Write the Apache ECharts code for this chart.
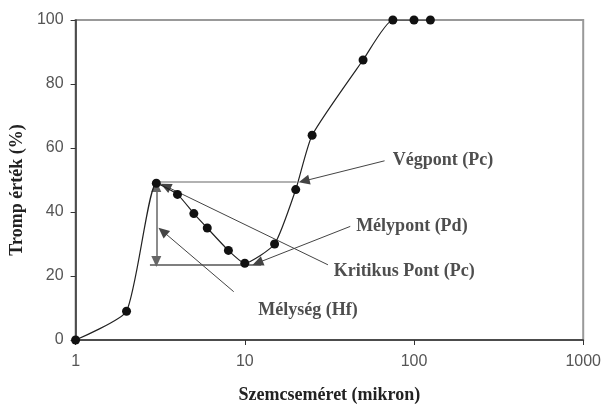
<!DOCTYPE html>
<html>
<head>
<meta charset="utf-8">
<script src="https://cdn.jsdelivr.net/npm/echarts@6/dist/echarts.min.js"></script>
<style>
  html, body { margin: 0; padding: 0; background: #fff; }
  #chart { width: 604px; height: 409px; }
</style>
</head>
<body>
<div id="chart"></div>
<script>
// Particle size (micron) and Tromp value (%)
const sizes = [1, 2, 3, 4, 5, 6, 8, 10, 15, 20, 25, 50, 75, 100, 125];
const tromp = [0, 9, 49, 45.5, 39.5, 35, 28, 24, 30, 47, 64, 87.5, 100, 100, 100];

// Axis tick values
const xTicks = [1, 10, 100, 1000];
const yTicks = [0, 20, 40, 60, 80, 100];

// Characteristic points of the curve
const peak = [3, 49];          // kritikus pont
const dip = [11.5, 23.5];      // mélypont
const endPt = [22, 49.5];      // végpont

// Annotation texts, anchor (left edge of text) and arrow start/end in data units
const noteNames = ['Végpont (Pc)', 'Mélypont (Pd)', 'Kritikus Pont (Pc)', 'Mélység (Hf)'];
const noteAnchors = [[75, 56], [45.5, 35.5], [33.5, 21.3], [12, 9.4]];
const arrowFrom = [[67, 56], [42, 35.5], [31, 23.5], [8.6, 15.1]];
const arrowTo = [[22.4, 49.7], [11.9, 24.1], [3.4, 48.1], [3.27, 34]];

const serif = '"Liberation Serif", "DejaVu Serif", serif';
const sans = '"Liberation Sans", Arial, sans-serif';

const chart = echarts.init(document.getElementById('chart'), null, { renderer: 'canvas' });

const headSize = [10, 11];
const arrowLines = arrowFrom.map((a, i) => [
  { coord: a, symbol: 'none' },
  { coord: arrowTo[i], symbol: 'triangle', symbolSize: headSize }
]);

chart.setOption({
  animation: false,
  backgroundColor: '#fff',
  grid: {
    left: 72, right: 20, top: 20, bottom: 65,
    show: true, borderColor: '#999', borderWidth: 2
  },
  xAxis: {
    type: 'log', logBase: 10, min: 1, max: 1000,
    name: 'Szemcseméret (mikron)', nameLocation: 'middle', nameGap: 46,
    nameTextStyle: { fontFamily: serif, fontWeight: 'bold', fontSize: 18, color: '#222' },
    axisLine: { lineStyle: { color: '#333', width: 1.5 } },
    axisTick: { show: true, length: 5, lineStyle: { color: '#333' } },
    minorTick: { show: false },
    splitLine: { show: false },
    axisLabel: {
      fontFamily: sans, fontSize: 16, color: '#555', margin: 14,
      formatter: v => (xTicks.includes(Math.round(v)) ? String(Math.round(v)) : '')
    }
  },
  yAxis: {
    type: 'value', min: 0, max: 100, interval: 20,
    name: 'Tromp érték (%)', nameLocation: 'middle', nameGap: 42,
    nameTextStyle: { fontFamily: serif, fontWeight: 'bold', fontSize: 18, color: '#222', padding: [0, 0, 0, -20] },
    axisLine: { show: true, lineStyle: { color: '#333', width: 1.5 } },
    axisTick: { show: true, length: 5, lineStyle: { color: '#333' } },
    splitLine: { show: false },
    axisLabel: {
      fontFamily: sans, fontSize: 16, color: '#555', margin: 12,
      formatter: v => (yTicks.includes(v) ? String(v) : '')
    }
  },
  series: [
    {
      type: 'line',
      data: sizes.map((s, i) => [s, tromp[i]]),
      smooth: 0.18,
      symbol: 'circle', symbolSize: 9,
      itemStyle: { color: '#111' },
      lineStyle: { color: '#222', width: 1.2 },
      z: 5,
      markLine: {
        silent: true,
        animation: false,
        label: { show: false },
        symbol: 'none',
        data: [
          // horizontal level at the peak, out to the end point
          [{ coord: [peak[0], endPt[1]], symbol: 'none', lineStyle: { color: '#999', width: 1.5 } },
           { coord: [endPt[0] * 0.92, endPt[1]], symbol: 'none' }],
          // horizontal level at the dip
          [{ coord: [2.75, dip[1]], symbol: 'none', lineStyle: { color: '#555', width: 1.5 } },
           { coord: [12.5, dip[1]], symbol: 'none' }],
          // depth (vertical, double-headed)
          [{ coord: [peak[0], peak[1] - 1], symbol: 'triangle', symbolSize: headSize, lineStyle: { color: '#666', width: 1.5 } },
           { coord: [peak[0], dip[1] + 1], symbol: 'triangle', symbolSize: headSize }],
          ...arrowLines
        ],
        lineStyle: { color: '#444', width: 1, type: 'solid' },
        itemStyle: { color: '#111' }
      }
    },
    {
      type: 'scatter',
      data: noteAnchors.map((p, i) => ({ value: p, name: noteNames[i] })),
      symbolSize: 0,
      silent: true,
      z: 6,
      label: {
        show: true, position: 'right', distance: 0,
        formatter: p => p.name,
        fontFamily: serif, fontWeight: 'bold', fontSize: 18, color: '#222'
      }
    }
  ]
});
</script>
</body>
</html>
